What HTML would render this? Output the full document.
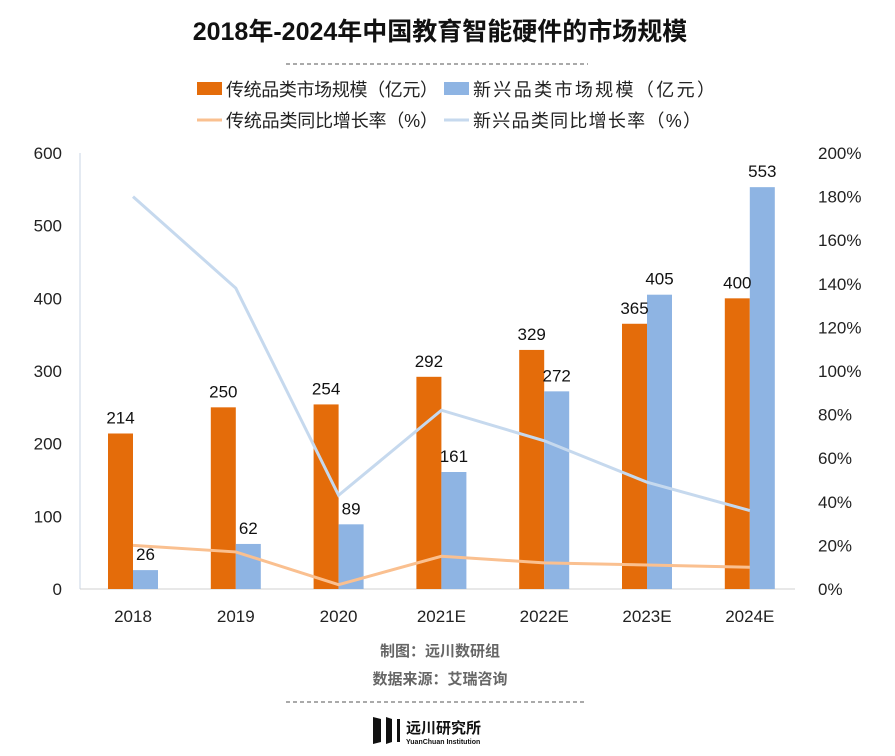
<!DOCTYPE html>
<html><head><meta charset="utf-8"><style>
body{margin:0;background:#fff;width:895px;height:751px;overflow:hidden;font-family:"Liberation Sans","Noto Sans CJK SC",sans-serif}
</style></head><body>
<svg id="c" width="895" height="751" xmlns="http://www.w3.org/2000/svg" font-family="Liberation Sans, Noto Sans CJK SC, sans-serif">
<text x="440" y="40" text-anchor="middle" font-size="25" font-weight="bold" fill="#111">2018年-2024年中国教育智能硬件的市场规模</text>
<line x1="286" y1="64" x2="588" y2="64" stroke="#555" stroke-dasharray="4,3"/>
<g font-size="18" fill="#222">
<rect x="197" y="82" width="25" height="13" fill="#E46C0A"/>
<text x="226" y="96" textLength="212" lengthAdjust="spacing">传统品类市场规模（亿元）</text>
<rect x="444" y="82" width="25" height="13" fill="#8EB4E3"/>
<text x="473" y="96" textLength="242" lengthAdjust="spacing">新兴品类市场规模（亿元）</text>
<line x1="197" y1="120" x2="222" y2="120" stroke="#FAC090" stroke-width="3"/>
<text x="226" y="127" textLength="212" lengthAdjust="spacing">传统品类同比增长率（%）</text>
<line x1="444" y1="120" x2="469" y2="120" stroke="#C6D9EE" stroke-width="3"/>
<text x="473" y="127" textLength="228" lengthAdjust="spacing">新兴品类同比增长率（%）</text>
</g>
<g id="plot"></g>
<text x="440" y="656" text-anchor="middle" font-size="15" font-weight="bold" fill="#666">制图：远川数研组</text>
<text x="440" y="684" text-anchor="middle" font-size="15" font-weight="bold" fill="#666">数据来源：艾瑞咨询</text>
<line x1="286" y1="702" x2="584" y2="702" stroke="#555" stroke-dasharray="4,3"/>
<g>
<path d="M373 717 L381 719 L381 742 L373 744 Z" fill="#111"/>
<path d="M386 717 L392 719 L392 742 L386 744 Z" fill="#111"/>
<rect x="397" y="719" width="3" height="23" fill="#111"/>
<text x="406" y="733" font-size="15" font-weight="bold" fill="#111">远川研究所</text>
<text x="406" y="744" font-size="7" font-weight="bold" fill="#111">YuanChuan Institution</text>
</g>
</svg>
<script>
const categories=["2018","2019","2020","2021E","2022E","2023E","2024E"];
const traditionalMarket=[214,250,254,292,329,365,400];
const newMarket=[26,62,89,161,272,405,553];
const traditionalRate=[20,17,2,15,12,11,10];
const newRate=[180,138,43,82,68,49,36];
const leftTicks=[0,100,200,300,400,500,600];
const rightTicks=[0,20,40,60,80,100,120,140,160,180,200];
const NS="http://www.w3.org/2000/svg";
const g=document.getElementById("plot");
const X0=80,X1=800,Y0=589,Y1=153;
const n=categories.length, step=102.8;
const xc=i=>133+step*i;
const yL=v=>Y0-(v/600)*(Y0-Y1);
const yR=v=>Y0-(v/200)*(Y0-Y1);
function mk(t,a){const e=document.createElementNS(NS,t);for(const k in a)e.setAttribute(k,a[k]);g.appendChild(e);return e;}
let ax=mk("line",{x1:X0,y1:Y1,x2:X0,y2:Y0,stroke:"#c8d4e6"});


let bx=mk("line",{x1:X0,y1:Y0,x2:X1-5,y2:Y0,stroke:"#d0d0d0"});


leftTicks.forEach(v=>{const t=mk("text",{x:62,y:yL(v)+6,"text-anchor":"end","font-size":17,fill:"#222"});t.textContent=v;

});
rightTicks.forEach(v=>{const t=mk("text",{x:818,y:yR(v)+6,"font-size":17,fill:"#222"});t.textContent=v+"%";

});
const bw=25;
categories.forEach((c,i)=>{
 const cx=xc(i);
 const r1=mk("rect",{x:cx-bw,y:yL(traditionalMarket[i]),width:bw,height:Y0-yL(traditionalMarket[i]),fill:"#E46C0A"});
 
 
 const r2=mk("rect",{x:cx,y:yL(newMarket[i]),width:bw,height:Y0-yL(newMarket[i]),fill:"#8EB4E3"});
 
 
 const l1=mk("text",{x:cx-bw/2,y:yL(traditionalMarket[i])-10,"text-anchor":"middle","font-size":17,fill:"#111"});l1.textContent=traditionalMarket[i];
 
 
 const l2=mk("text",{x:cx+bw/2,y:yL(newMarket[i])-10,"text-anchor":"middle","font-size":17,fill:"#111"});l2.textContent=newMarket[i];
 
 
 const xl=mk("text",{x:cx,y:622,"text-anchor":"middle","font-size":17,fill:"#222"});xl.textContent=c;
 
 
});
const p1=mk("polyline",{points:newRate.map((v,i)=>xc(i)+","+yR(v)).join(" "),fill:"none",stroke:"#C6D9EE","stroke-width":3});


const p2=mk("polyline",{points:traditionalRate.map((v,i)=>xc(i)+","+yR(v)).join(" "),fill:"none",stroke:"#FAC090","stroke-width":3});


</script>
</body></html>
